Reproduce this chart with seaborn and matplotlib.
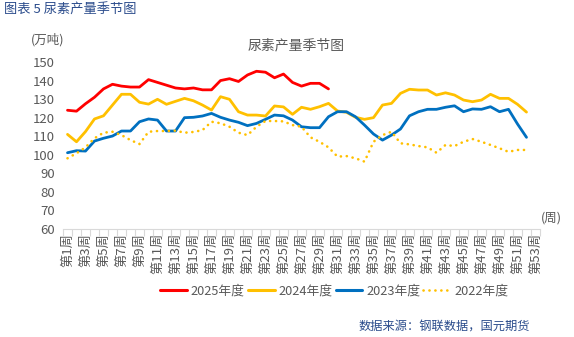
import matplotlib
matplotlib.use("Agg")
import matplotlib.pyplot as plt
import seaborn as sns
import pandas as pd
import numpy as np
from matplotlib.lines import Line2D

weeks = list(range(1, 54))
week_labels = [f"第{w}周" for w in weeks]

y2025 = [124, 123.5, 127.5, 131, 135.5, 138, 137, 136.5, 136.5, 140.5,
         139, 137.5, 136, 135.5, 136, 135, 135, 140, 141, 139.5,
         143, 145, 144.5, 141.5, 143.5, 139, 137, 138.5, 138.5, 135.5]
y2024 = [111, 107, 112.5, 119.3, 121, 126.8, 132.6, 132.6, 128.3, 127.3,
         129.9, 127.2, 128.8, 130.4, 129.1, 126.8, 124.1, 131.3, 129.9, 123.2,
         121.4, 121.4, 120.9, 126.3, 125.8, 121.8, 125.6, 124.5, 125.9, 127.7,
         123.6, 122.9, 120.2, 119.1, 120, 126.8, 127.7, 133.1, 135.3, 134.9,
         134.9, 132.2, 133.4, 132.2, 129.5, 128.6, 129.5, 132.6, 130.4, 130.4,
         127.2, 123]
y2023 = [101.1, 102.2, 102, 107.4, 108.9, 110.1, 112.8, 112.8, 117.8, 119.3,
         118.7, 112.8, 112.8, 120, 120.2, 120.9, 122.3, 120.2, 118.7, 117.5,
         115.7, 116.9, 119.1, 121.4, 121, 118.7, 115.1, 114.6, 114.6, 120.5,
         123.2, 123.2, 120.5, 116, 111.2, 107.9, 110.6, 113.9, 121, 123.2,
         124.5, 124.5, 125.6, 126.4, 123.2, 124.7, 124.5, 125.9, 123.2, 124.5,
         116.6, 109.4]
y2022 = [98.1, 100.8, 104, 108.9, 111.9, 112.4, 110.6, 107.9, 105.8, 112.4,
         112.8, 112.8, 113, 111.9, 112.3, 113.3, 117.8, 117, 115.1, 111.9,
         110.6, 115.1, 118.2, 118.2, 118, 116, 115.1, 109.4, 107, 104,
         99, 99.3, 98.1, 96.3, 107, 110.6, 112.4, 106.2, 105.6, 104.7,
         104, 101.1, 105.3, 104.7, 107, 108.5, 107, 105.3, 103.5, 101.6,
         102.6, 102.6]

series_names = ["2025年度", "2024年度", "2023年度", "2022年度"]
series_values = [y2025, y2024, y2023, y2022]
colors = ["#FF0000", "#FFC000", "#0070C0", "#FFC000"]

rows = []
for name, vals in zip(series_names, series_values):
    for i, v in enumerate(vals):
        rows.append({"week": weeks[i], "value": v, "series": name})
df = pd.DataFrame(rows)

sns.set_theme(style="white")
plt.rcParams["font.family"] = ["Noto Sans CJK SC", "DejaVu Sans"]

W, H = 574, 337
fig = plt.figure(figsize=(W / 100, H / 100), dpi=100)
ax = fig.add_axes([63 / W, 1 - 229 / H, (540 - 63) / W, (229 - 62) / H])

DOT = (0, (0.05, 2.2))
for name, col in zip(series_names, colors):
    sub = df[df["series"] == name]
    sns.lineplot(data=sub, x="week", y="value", ax=ax, color=col,
                 linewidth=2.0, legend=False)
line22 = ax.lines[3]
line22.set_linestyle(DOT)
line22.set_dash_capstyle("round")
line22.set_linewidth(1.9)

ax.set_xlim(0.5, 53.5)
ax.set_ylim(60, 150)
ax.set_yticks(np.arange(60, 151, 10))
ax.set_xticks(weeks[::2])
ax.set_xticklabels(week_labels[::2], rotation=90, fontsize=9.5, color="#595959")
ax.set_xticks(np.arange(0.5, 54, 1), minor=True)
ax.tick_params(axis="x", which="major", length=0, pad=3)
ax.tick_params(axis="x", which="minor", length=5, color="#D9D9D9", width=0.8, bottom=True)
ax.tick_params(axis="y", length=0, labelsize=9.5, labelcolor="#595959", pad=6)
ax.set_xlabel("")
ax.set_ylabel("")
for s in ["top", "right", "left"]:
    ax.spines[s].set_visible(False)
ax.spines["bottom"].set_color("#D9D9D9")
ax.spines["bottom"].set_linewidth(0.8)
ax.grid(False)

fig.text(4 / W, 1 - 10 / H, "图表 5 尿素产量季节图", fontsize=9.5, color="#2B4C8C",
         ha="left", va="center")
fig.text(48 / W, 1 - 40 / H, "(万吨)", fontsize=9, color="#595959", ha="center", va="center")
fig.text(296 / W, 1 - 45 / H, "尿素产量季节图", fontsize=10, color="#595959", ha="center", va="center")
fig.text(551 / W, 1 - 218 / H, "(周)", fontsize=9, color="#595959", ha="center", va="center")
fig.text(530 / W, 1 - 327 / H, "数据来源：钢联数据，国元期货", fontsize=8.8, color="#2B4C8C",
         ha="right", va="center")

handles = []
for name, col in zip(series_names, colors):
    if name == "2022年度":
        h = Line2D([], [], color=col, linewidth=1.9, linestyle=DOT,
                   dash_capstyle="round")
    else:
        h = Line2D([], [], color=col, linewidth=2.2)
    handles.append(h)
fig.legend(handles, series_names, loc="center", bbox_to_anchor=(334 / W, 1 - 291 / H),
           ncol=4, frameon=False, fontsize=9.2, handlelength=2.1, handletextpad=0.3,
           columnspacing=0.25, labelcolor="#595959")

fig.savefig("out.png", dpi=100)
